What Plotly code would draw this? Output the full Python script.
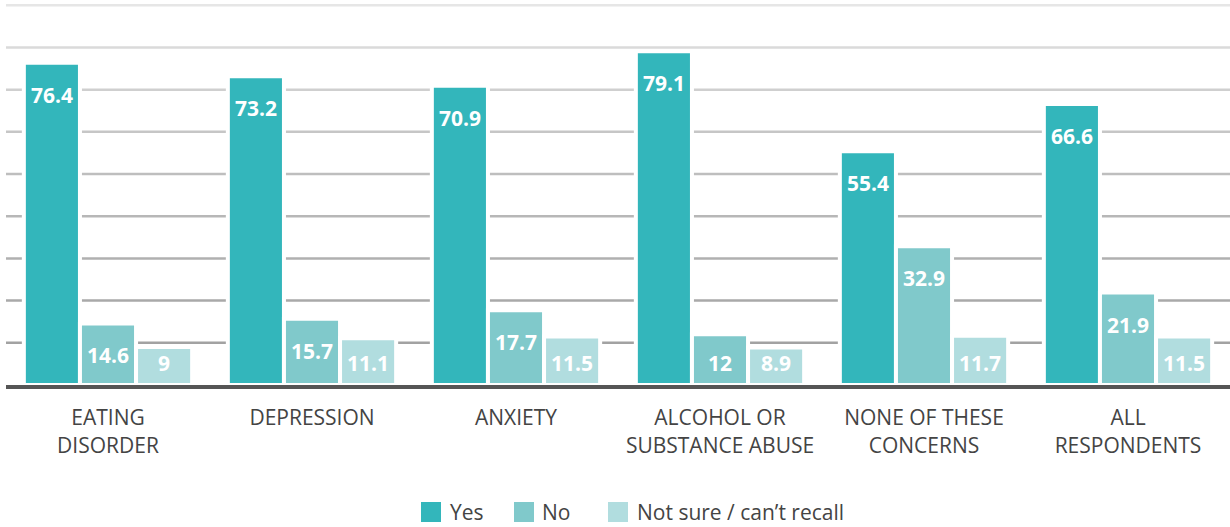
import plotly.graph_objects as go

categories = ["EATING<br>DISORDER", "DEPRESSION", "ANXIETY",
              "ALCOHOL OR<br>SUBSTANCE ABUSE", "NONE OF THESE<br>CONCERNS", "ALL<br>RESPONDENTS"]
yes = [76.4, 73.2, 70.9, 79.1, 55.4, 66.6]
no = [14.6, 15.7, 17.7, 12, 32.9, 21.9]
not_sure = [9, 11.1, 11.5, 8.9, 11.7, 11.5]

series = [("Yes", yes, "#33b6bb"), ("No", no, "#80c9cb"), ("Not sure / can\u2019t recall", not_sure, "#b1dddf")]
grid_levels = [10, 20, 30, 40, 50, 60, 70, 80, 90]
grid_colors = ["#a2a2a2", "#a9a9a9", "#b0b0b0", "#b7b7b7", "#bebebe", "#c6c6c6", "#cfcfcf", "#dadada", "#e6e6e6"]

FONT = "Open Sans"
W, H = 1230, 527
M_L, M_R, M_T, M_B = 6, 0, 4, 142
BARGAP = 0.175
x_pos = list(range(len(categories)))
bar_w = (1 - BARGAP) / len(series)

plot_w = W - M_L - M_R
plot_h = H - M_T - M_B


def px_to_paper(px, py):
    return (px - M_L) / plot_w, (H - M_B - py) / plot_h


fig = go.Figure()
for name, vals, color in series:
    fig.add_trace(go.Bar(
        x=x_pos, y=vals, name=name, showlegend=False,
        marker=dict(color=color, line=dict(color="white", width=4)),
        hoverinfo="skip",
    ))

# value labels: a fixed distance below the bar top, kept clear of the baseline
for k, (name, vals, color) in enumerate(series):
    for i, v in enumerate(vals):
        fig.add_annotation(
            x=i + (k - 1) * bar_w, y=max(v - 7.6, 5.3), xref="x", yref="y",
            text=f"<b>{v:g}</b>", showarrow=False,
            font=dict(family=FONT, size=21, color="white"),
            xanchor="center", yanchor="middle",
        )

for lvl, col in zip(grid_levels, grid_colors):
    fig.add_shape(type="line", xref="paper", yref="y", x0=0, x1=1.01, y0=lvl, y1=lvl,
                  line=dict(color=col, width=2.5), layer="below")

# legend row with large square swatches
legend_items = [(421, 448), (514, 540), (608, 635)]
for (sx, tx), (name, vals, color) in zip(legend_items, series):
    x0, y0 = px_to_paper(sx, 522)
    x1, y1 = px_to_paper(sx + 20, 502)
    fig.add_shape(type="rect", xref="paper", yref="paper", x0=x0, x1=x1, y0=y0, y1=y1,
                  fillcolor=color, line=dict(width=0))
    ax, ay = px_to_paper(tx, 512)
    fig.add_annotation(x=ax, y=ay, xref="paper", yref="paper", text=name, showarrow=False,
                       xanchor="left", yanchor="middle",
                       font=dict(family=FONT, size=21, color="#444444"))

fig.update_layout(
    width=W, height=H,
    margin=dict(l=M_L, r=M_R, t=M_T, b=M_B),
    barmode="group", bargap=BARGAP, bargroupgap=0,
    plot_bgcolor="white", paper_bgcolor="white",
    showlegend=False,
    xaxis=dict(tickmode="array", tickvals=x_pos, ticktext=categories, range=[-0.5, 5.5],
               showgrid=False, zeroline=False, showline=True, linecolor="#555555", linewidth=4,
               ticks="", tickfont=dict(family=FONT, size=21, color="#444444"),
               ticklabelstandoff=11),
    yaxis=dict(range=[0, 90.3], showgrid=False, zeroline=False, showticklabels=False, ticks=""),
)

fig.write_html("out.html")
